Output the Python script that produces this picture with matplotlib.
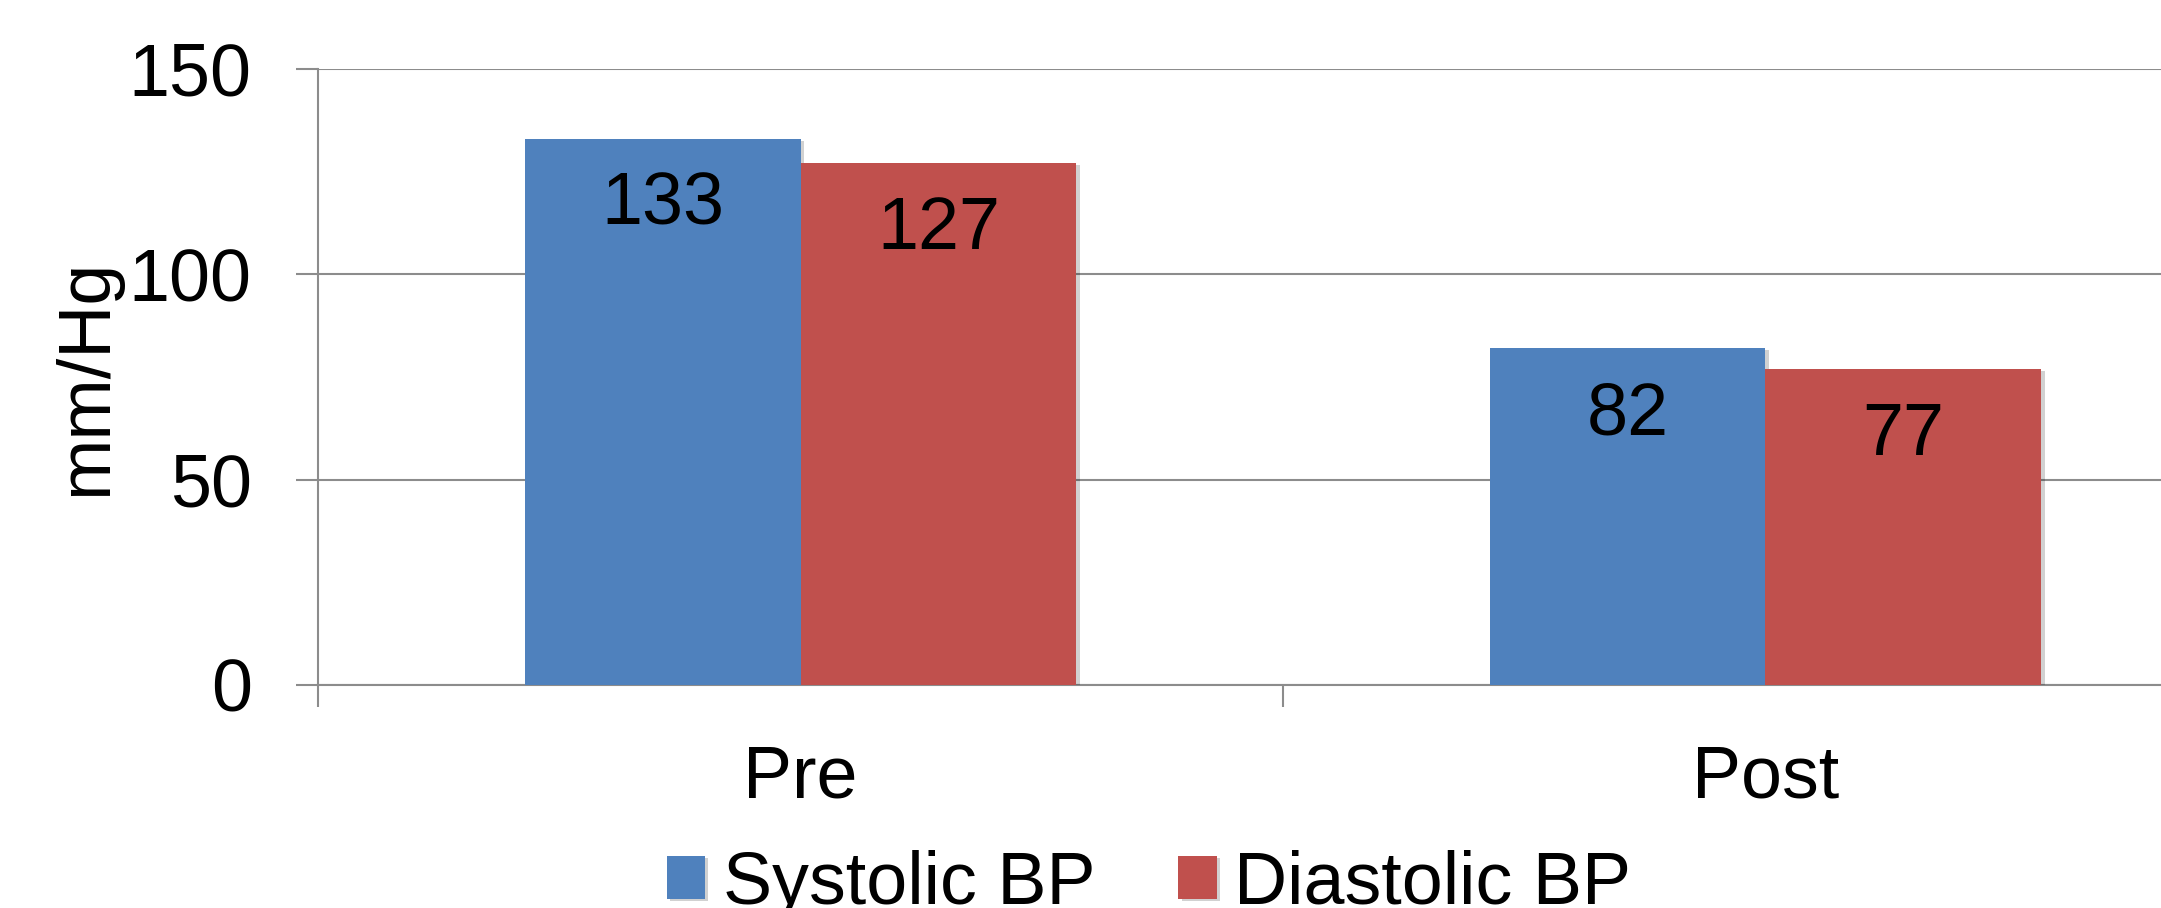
import numpy as np
import matplotlib
matplotlib.use("Agg")
import matplotlib.pyplot as plt
import matplotlib.patheffects as pe

categories = ['Pre', 'Post']
systolic = [133, 82]
diastolic = [127, 77]
series_names = ['Systolic BP', 'Diastolic BP']
y_ticks = [0, 50, 100, 150]

BLUE = '#4F81BD'
RED = '#C0504D'
GRID = '#8C8C8C'
FS = 53

plt.rcParams['font.family'] = ['Liberation Sans', 'DejaVu Sans']

fig = plt.figure(figsize=(21.61, 9.08), dpi=100)
# the chart is cropped on the right, so the axes runs past the figure edge
ax = fig.add_axes([0.1473, 0.2456, 0.8929, 0.6785])

x = np.arange(len(categories))
w = 0.2857
shadow = [pe.SimplePatchShadow(offset=(2.5, -1.5), shadow_rgbFace='#000000', alpha=0.18), pe.Normal()]
b1 = ax.bar(x - w / 2, systolic, w, color=BLUE, label=series_names[0], zorder=3, path_effects=shadow)
b2 = ax.bar(x + w / 2, diastolic, w, color=RED, label=series_names[1], zorder=3, path_effects=shadow)

for bars, vals in ((b1, systolic), (b2, diastolic)):
    for rect, v in zip(bars, vals):
        ax.annotate(str(v), (rect.get_x() + rect.get_width() / 2, v),
                    xytext=(0, -62), textcoords='offset points',
                    ha='center', va='baseline', fontsize=FS, color='black', zorder=4)

ax.set_xlim(-0.5, 1.5)
ax.set_ylim(0, 150)
ax.set_yticks(y_ticks)
ax.set_xticks(x)
ax.set_xticklabels(categories)
ax.set_xticks([-0.5, 0.5, 1.5], minor=True)

ax.tick_params(axis='y', labelsize=FS, length=16, width=1.5, color=GRID, pad=32)
ax.tick_params(axis='x', which='major', labelsize=FS, length=0, pad=42)
ax.tick_params(axis='x', which='minor', length=16, width=1.5, color=GRID)

ax.grid(axis='y', color=GRID, linewidth=1.5, zorder=0)
ax.set_axisbelow(True)
for s in ('top', 'right'):
    ax.spines[s].set_visible(False)
for s in ('left', 'bottom'):
    ax.spines[s].set_color(GRID)
    ax.spines[s].set_linewidth(1.5)

ax.set_ylabel('mm/Hg', fontsize=FS, va='center')
ax.yaxis.set_label_coords(-0.12, 0.5)

fig.legend(handles=[b1, b2], labels=series_names, loc='center',
           bbox_to_anchor=(0.5317, 0.026), ncol=2, frameon=False, fontsize=FS,
           handlelength=0.52, handleheight=0.52, handletextpad=0.24,
           columnspacing=1.13, borderpad=0, borderaxespad=0)

fig.savefig('out.png', dpi=100)
